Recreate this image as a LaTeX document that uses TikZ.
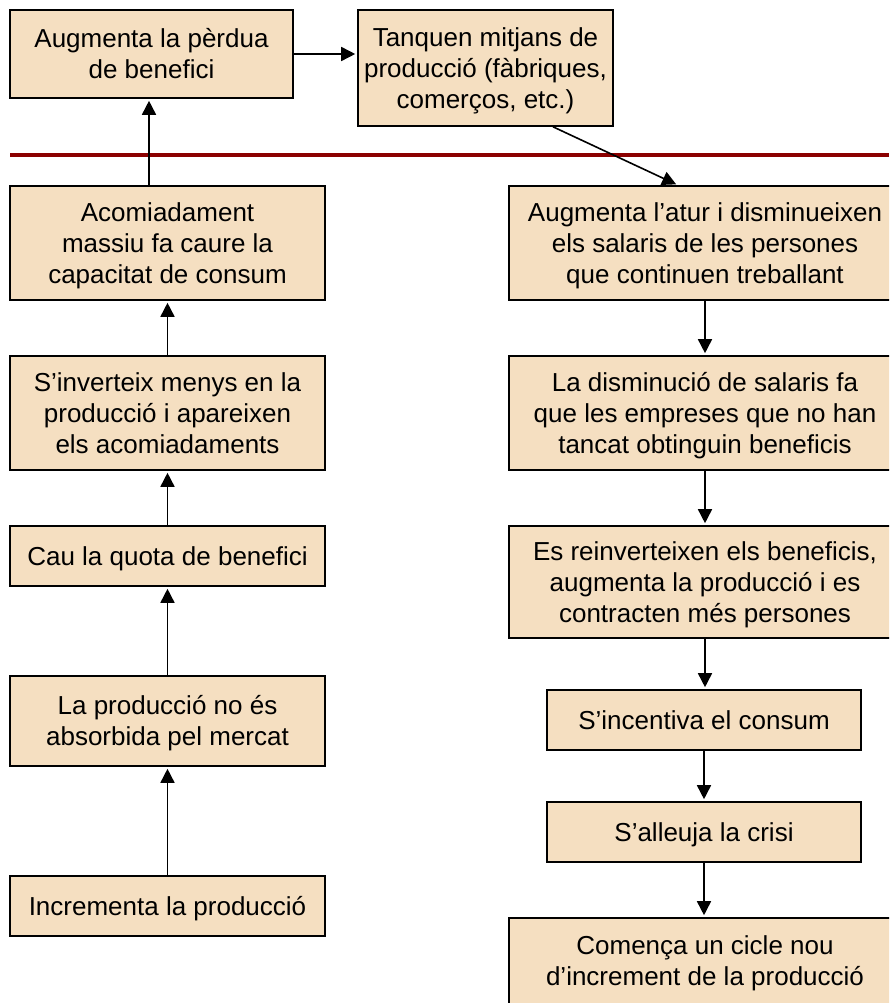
\documentclass[tikz,border=0pt]{standalone}
\usepackage{fontspec}
\setmainfont{Liberation Sans}
\usetikzlibrary{arrows.meta}
\definecolor{boxfill}{HTML}{F5DFC1}
\definecolor{divider}{HTML}{8B0000}
\newcommand{\bxt}[1]{\raisebox{-3pt}[\height][\depth]{\begin{tabular}{@{}c@{}}#1\end{tabular}}}
\begin{document}
\begin{tikzpicture}[x=1pt,y=-1pt,
  box/.style={draw=black, line width=1.6pt, fill=boxfill, inner sep=0pt,
    font=\fontsize{26}{31}\selectfont},
  arr/.style={line width=1.6pt, -{Triangle[length=14pt,width=14pt]}, shorten >=2pt},
  redline/.style={draw=divider, line width=3.2pt}]
\useasboundingbox (0,0) rectangle (889,1003);
\clip (0,0) rectangle (889,1003);
% top row
\node[box, minimum width=283pt, minimum height=88pt] (A) at (151.5,54) {\bxt{Augmenta la pèrdua\\de benefici}};
\node[box, minimum width=255pt, minimum height=116pt] (B) at (485.5,68) {\bxt{Tanquen mitjans de\\producció (fàbriques,\\comerços, etc.)}};
% divider
\draw[redline] (10,155) -- (889,155);
% left column
\node[box, minimum width=315pt, minimum height=114pt] (L1) at (167.5,243) {\bxt{Acomiadament\\massiu fa caure la\\capacitat de consum}};
\node[box, minimum width=315pt, minimum height=114pt] (L2) at (167.5,413) {\bxt{S’inverteix menys en la\\producció i apareixen\\els acomiadaments}};
\node[box, minimum width=315pt, minimum height=60pt] (L3) at (167.5,556) {\bxt{Cau la quota de benefici}};
\node[box, minimum width=315pt, minimum height=90pt] (L4) at (167.5,721) {\bxt{La producció no és\\absorbida pel mercat}};
\node[box, minimum width=315pt, minimum height=60pt] (L5) at (167.5,906) {\bxt{Incrementa la producció}};
% right column
\node[box, minimum width=392pt, minimum height=114pt] (R1) at (705,243) {\bxt{Augmenta l’atur i disminueixen\\els salaris de les persones\\que continuen treballant}};
\node[box, minimum width=392pt, minimum height=114pt] (R2) at (705,413) {\bxt{La disminució de salaris fa\\que les empreses que no han\\tancat obtinguin beneficis}};
\node[box, minimum width=392pt, minimum height=112pt] (R3) at (705,582) {\bxt{Es reinverteixen els beneficis,\\augmenta la producció i es\\contracten més persones}};
\node[box, minimum width=314pt, minimum height=60pt] (R4) at (704,720) {\bxt{S’incentiva el consum}};
\node[box, minimum width=314pt, minimum height=60pt] (R5) at (704,832) {\bxt{S’alleuja la crisi}};
\node[box, minimum width=392pt, minimum height=86pt] (R6) at (705,961) {\bxt{Comença un cicle nou\\d’increment de la producció}};
% connectors left
\draw[arr] (L5.north) -- (L4.south);
\draw[arr] (L4.north) -- (L3.south);
\draw[arr] (L3.north) -- (L2.south);
\draw[arr] (L2.north) -- (L1.south);
\draw[arr] ([xshift=-2.5pt]A.south |- L1.north) -- ([xshift=-2.5pt]A.south);
\draw[arr] (A.east) -- (B.west |- A.east);
\draw[arr] ([xshift=67.5pt]B.south) -- ([xshift=-27pt]R1.north);
% connectors right
\draw[arr] (R1.south) -- (R2.north);
\draw[arr] (R2.south) -- (R3.north);
\draw[arr] (R3.south) -- (R3.south |- R4.north);
\draw[arr] (R4.south) -- (R5.north);
\draw[arr] (R5.south) -- (R5.south |- R6.north);
\end{tikzpicture}
\end{document}
